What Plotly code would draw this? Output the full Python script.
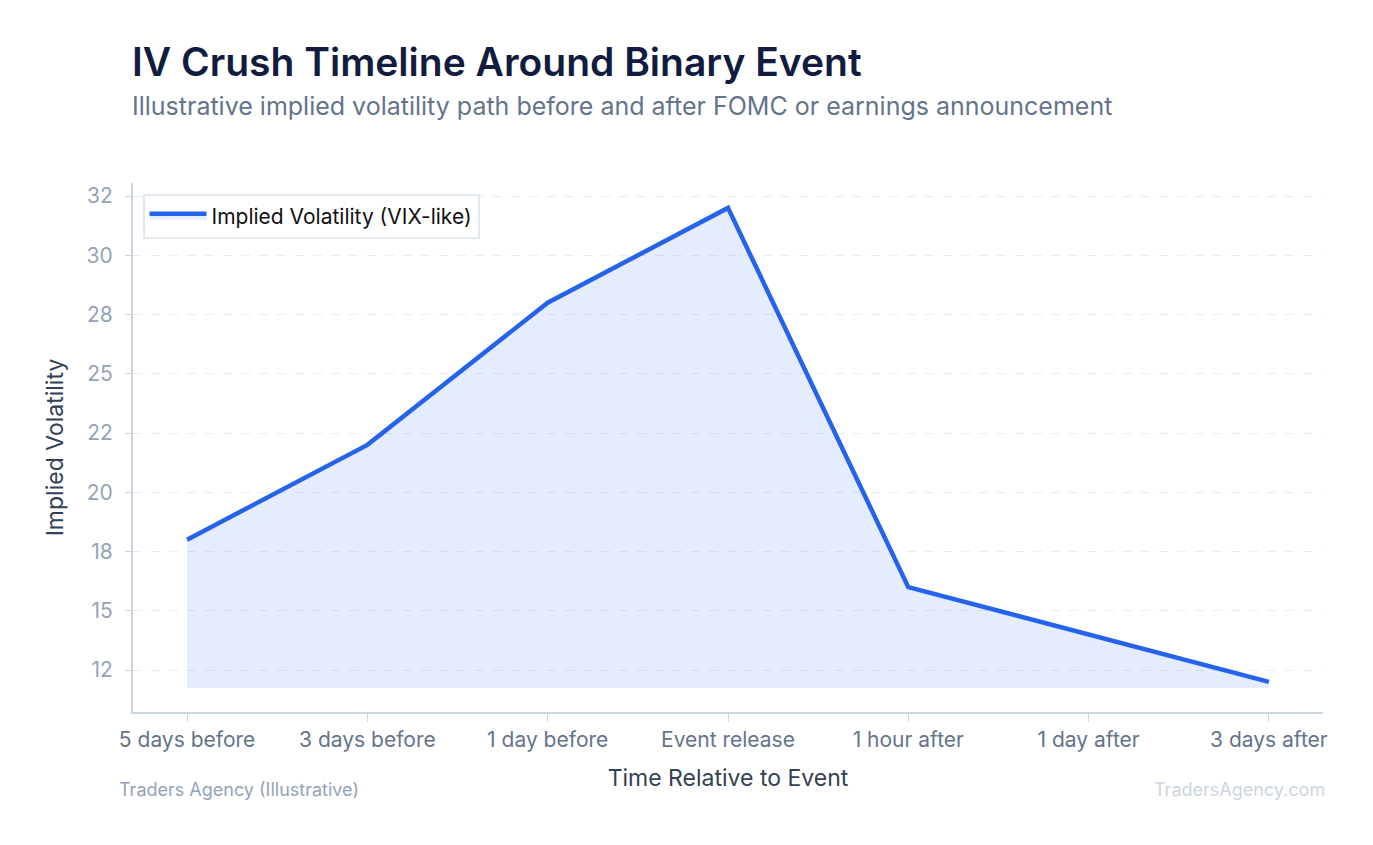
import plotly.graph_objects as go

# Timeline categories and illustrative IV values
stages = ['5 days before', '3 days before', '1 day before', 'Event release',
          '1 hour after', '1 day after', '3 days after']
iv_values = [18.0, 22.0, 28.0, 32.0, 16.0, 14.0, 12.0]
fill_floor = 11.76

ytick_vals = [12.5, 15, 17.5, 20, 22.5, 25, 27.5, 30, 32.5]
ytick_text = ['12', '15', '18', '20', '22', '25', '28', '30', '32']

blue = '#2563eb'
font_family = 'Inter, Roboto, sans-serif'

fig = go.Figure()

# invisible floor so the area fill stops just under the lowest point
fig.add_trace(go.Scatter(x=list(range(len(stages))), y=[fill_floor] * len(stages),
                         mode='lines', line=dict(color='rgba(37,99,235,0.06)', width=1),
                         showlegend=False, hoverinfo='skip'))
fig.add_trace(go.Scatter(x=list(range(len(stages))), y=iv_values, mode='lines',
                         name='Implied Volatility (VIX-like)',
                         line=dict(color=blue, width=4.5),
                         fill='tonexty', fillcolor='rgba(37,99,235,0.12)'))

fig.update_layout(
    width=1373, height=845,
    margin=dict(l=125, r=58, t=175, b=141),
    paper_bgcolor='white', plot_bgcolor='white',
    font=dict(family=font_family),
    legend=dict(x=0.008, y=0.98, xanchor='left', yanchor='top',
                bgcolor='white', bordercolor='#e2e8f0', borderwidth=2,
                itemwidth=57,
                font=dict(size=21, color='#111111')),
    xaxis=dict(
        tickmode='array', tickvals=list(range(len(stages))), ticktext=stages,
        range=[-0.3, 6.3], showgrid=False, zeroline=False,
        showline=True, linecolor='#cbd5e1', linewidth=2,
        ticks='outside', ticklen=8, tickcolor='#cbd5e1',
        tickfont=dict(size=21, color='#64748b'),
        title=dict(text='Time Relative to Event', standoff=19,
                   font=dict(size=23, color='#334155'))
    ),
    yaxis=dict(
        tickmode='array', tickvals=ytick_vals, ticktext=ytick_text,
        range=[10.73, 33.05], zeroline=False,
        showgrid=True, gridcolor='#e8edf3', griddash='dash', gridwidth=1,
        showline=True, linecolor='#cbd5e1', linewidth=2,
        ticks='outside', ticklen=6, tickcolor='#cbd5e1',
        ticklabelstandoff=8,
        tickfont=dict(size=21, color='#94a3b8'),
        title=dict(text='Implied Volatility', standoff=17,
                   font=dict(size=23, color='#334155'))
    ),
    annotations=[
        dict(text='IV Crush Timeline Around Binary Event', x=-0.0025, y=1.229,
             xref='paper', yref='paper', xanchor='left', yanchor='middle',
             showarrow=False, font=dict(size=39, weight=600, color='#111c3f')),
        dict(text='Illustrative implied volatility path before and after FOMC or earnings announcement',
             x=-0.0025, y=1.146, xref='paper', yref='paper', xanchor='left', yanchor='middle',
             showarrow=False, font=dict(size=25, color='#64748b')),
        dict(text='Traders Agency (Illustrative)', x=-0.0135, y=-0.146,
             xref='paper', yref='paper', xanchor='left', yanchor='middle',
             showarrow=False, font=dict(size=18, color='#94a3b8')),
        dict(text='TradersAgency.com', x=1.003, y=-0.146,
             xref='paper', yref='paper', xanchor='right', yanchor='middle',
             showarrow=False, font=dict(size=18, color='#cbd5e1')),
    ]
)

fig.write_html('out.html')
